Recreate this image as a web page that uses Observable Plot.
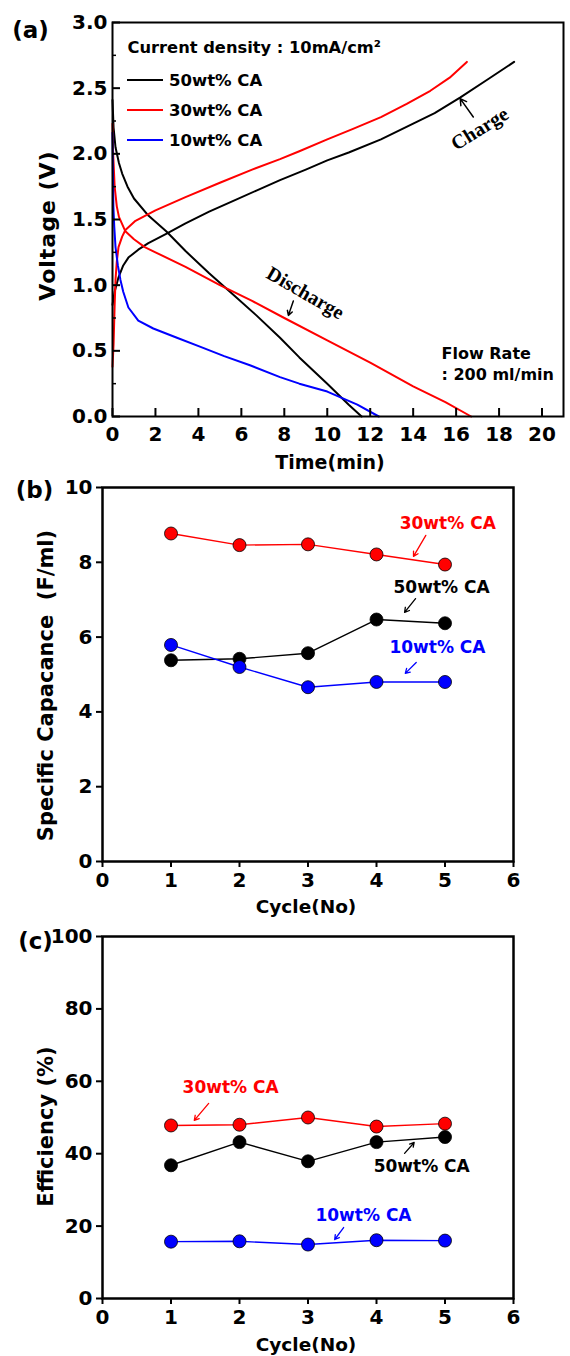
<!DOCTYPE html>
<html><head><meta charset="utf-8">
<script src="https://cdn.jsdelivr.net/npm/d3@7"></script>
<script src="https://cdn.jsdelivr.net/npm/@observablehq/plot@0.6"></script>
<style>
body{margin:0;background:#fff;}
#wrap{position:relative;width:570px;height:1356px;background:#fff;font-family:"DejaVu Sans",sans-serif;font-weight:bold;}
#wrap svg{position:absolute;left:0;display:block;overflow:visible;}
.leg{position:absolute;left:127px;display:flex;align-items:center;height:30px;font-size:16.5px;font-weight:bold;color:#000;}
.leg span.sw{display:inline-block;width:36px;height:0;border-top:2.5px solid #000;margin-right:6px;}
</style></head><body><div id="wrap"></div>
<script>
// ---------- shared ----------
const seriesNames = ["50wt% CA", "30wt% CA", "10wt% CA"];
const seriesColors = ["#000000", "#ff0000", "#0000ff"];

// ---------- panel (a): voltage vs time [time (min), voltage (V)] ----------
const charge50 = [[0,0.85],[0.1,0.95],[0.28,1.06],[0.5,1.15],[0.74,1.21],[1.2,1.27],[1.67,1.32],[2.5,1.39],[3.4,1.47],[4.5,1.56],[5.6,1.64],[6.7,1.72],[7.8,1.80],[9,1.88],[10,1.95],[11,2.01],[12.5,2.11],[14,2.23],[15,2.31],[16.2,2.43],[17.5,2.57],[18.7,2.70]];
const discharge50 = [[0,2.41],[0.05,2.2],[0.14,2.05],[0.3,1.93],[0.45,1.85],[0.7,1.75],[1,1.66],[1.67,1.53],[2.5,1.41],[3.4,1.26],[4.5,1.09],[5.6,0.93],[6.7,0.77],[7.8,0.60],[8.7,0.45],[10,0.25],[11,0.09],[11.6,0]];
const charge30 = [[0,0.38],[0.05,0.55],[0.1,0.85],[0.14,1.04],[0.2,1.18],[0.28,1.29],[0.45,1.37],[0.6,1.42],[1.07,1.49],[2,1.57],[3.4,1.67],[5,1.78],[6.5,1.88],[7.8,1.96],[8.7,2.02],[10,2.11],[11.2,2.19],[12.5,2.28],[13.7,2.38],[14.8,2.48],[15.7,2.58],[16.5,2.70]];
const discharge30 = [[0,2.23],[0.03,2.0],[0.1,1.75],[0.2,1.6],[0.3,1.52],[0.6,1.41],[1,1.35],[1.5,1.29],[2,1.25],[3.4,1.14],[5,1.0],[6.5,0.88],[8,0.75],[10,0.58],[12,0.41],[14,0.23],[15.5,0.11],[16.7,0]];
const discharge10 = [[0,2.16],[0.02,1.85],[0.04,1.6],[0.08,1.45],[0.14,1.29],[0.25,1.15],[0.37,1.04],[0.5,0.95],[0.74,0.83],[1.2,0.73],[1.9,0.67],[3,0.6],[4.1,0.53],[5.2,0.46],[6.4,0.39],[7.8,0.30],[8.7,0.25],[10,0.19],[11.4,0.09],[12.4,0]];
const xTicksA = [0,2,4,6,8,10,12,14,16,18,20];
const yTicksA = [0,0.5,1,1.5,2,2.5,3];
const yMinorA = [0.25,0.75,1.25,1.75,2.25,2.75];

// ---------- panel (b) & (c): per cycle ----------
const cycles = [1,2,3,4,5];
const capacitance50 = [5.38,5.42,5.57,6.47,6.37];
const capacitance30 = [8.77,8.46,8.48,8.21,7.94];
const capacitance10 = [5.79,5.20,4.66,4.80,4.80];
const efficiency50 = [36.8,43.2,37.9,43.2,44.6];
const efficiency30 = [47.8,48.0,50.0,47.5,48.3];
const efficiency10 = [15.7,15.8,14.9,16.1,16.0];
const xTicksBC = [0,1,2,3,4,5,6];
const yTicksB = [0,2,4,6,8,10];
const yTicksC = [0,20,40,60,80,100];

// annotations (data coordinates)
const annA = [
  {text:"Charge", x:17.1, y:2.19, rotate:-32, ax1:16.8, ay1:2.28, ax2:16.19, ay2:2.42},
  {text:"Discharge", x:8.98, y:0.94, rotate:30, ax1:8.42, ay1:0.88, ax2:8.19, ay2:0.77}
];
const annB = [
  {series:"30wt% CA", x:5.04, y:9.04, ax1:4.72, ay1:8.72, ax2:4.54, ay2:8.16},
  {series:"50wt% CA", x:4.95, y:7.33, ax1:4.57, ay1:7.03, ax2:4.41, ay2:6.66},
  {series:"10wt% CA", x:4.89, y:5.72, ax1:4.58, ay1:5.32, ax2:4.42, ay2:5.03}
];
const annC = [
  {series:"30wt% CA", x:1.87, y:58.3, ax1:1.55, ay1:53.9, ax2:1.34, ay2:49.2},
  {series:"50wt% CA", x:4.66, y:36.5, ax1:4.41, ay1:40.1, ax2:4.55, ay2:43.1},
  {series:"10wt% CA", x:3.81, y:22.9, ax1:3.52, ay1:19.6, ax2:3.39, ay2:16.3}
];

// ---------- build tables ----------
const curvesA = [
  {series:"50wt% CA", phase:"charge", pts:charge50},
  {series:"50wt% CA", phase:"discharge", pts:discharge50},
  {series:"30wt% CA", phase:"charge", pts:charge30},
  {series:"30wt% CA", phase:"discharge", pts:discharge30},
  {series:"10wt% CA", phase:"discharge", pts:discharge10}
];
const rowsA = curvesA.flatMap(c => c.pts.map(([t, v]) => ({t, v, series:c.series, key:c.series + c.phase})));
function perCycle(a50, a30, a10) {
  const m = {"50wt% CA":a50, "30wt% CA":a30, "10wt% CA":a10};
  return seriesNames.flatMap(s => cycles.map((c, i) => ({series:s, cycle:c, value:m[s][i]})));
}
const rowsB = perCycle(capacitance50, capacitance30, capacitance10);
const rowsC = perCycle(efficiency50, efficiency30, efficiency10);
const colorOf = s => seriesColors[seriesNames.indexOf(s)];

const FONT = "DejaVu Sans";
const baseStyle = "font-family:'DejaVu Sans',sans-serif;font-weight:bold;font-size:20px;color:#000;background:transparent;overflow:visible;";

function thickenAxes(svg) {
  d3.select(svg).selectAll('g[aria-label^="x-axis"] line, g[aria-label^="x-axis"] path, g[aria-label^="y-axis"] line, g[aria-label^="y-axis"] path')
    .attr("stroke-width", 2);
}
function spaceText(svg, text, px) {
  d3.select(svg).selectAll("text").filter(function() { return this.textContent === text; })
    .style("letter-spacing", px + "px");
}
function title(text, anchor, dx, dy, rotate, fontSize) {
  return Plot.text([text], {text:d => d, frameAnchor:anchor, textAnchor:"middle", lineAnchor:"middle", dx, dy, rotate, fontSize, fontWeight:"bold", fontFamily:FONT, fill:"black"});
}
function panelLabel(text, dx, dy) {
  return Plot.text([text], {text:d => d, frameAnchor:"top-left", textAnchor:"middle", lineAnchor:"middle", dx, dy, fontSize:23, fontWeight:"bold", fontFamily:FONT, fill:"black"});
}

const wrap = document.getElementById("wrap");

// ---------- panel (a) ----------
const hA = 475, mtA = 22, mbA = 59, mlA = 112, mrA = 7;
const frameWA = 570 - mlA - mrA, frameHA = hA - mtA - mbA;
const svgA = Plot.plot({
  width:570, height:hA, marginTop:mtA, marginBottom:mbA, marginLeft:mlA, marginRight:mrA,
  style:baseStyle,
  x:{domain:[0,21], ticks:xTicksA, tickSize:0, tickPadding:10, tickFormat:d => d, label:null},
  y:{domain:[0,3], ticks:yTicksA, tickSize:0, tickPadding:5, tickFormat:d3.format(".1f"), label:null},
  color:{domain:seriesNames, range:seriesColors},
  marks:[
    Plot.line(rowsA, {x:"t", y:"v", z:"key", stroke:"series", strokeWidth:2}),
    Plot.ruleX(xTicksA, {x:d => d, insetTop:frameHA - 8, stroke:"black", strokeWidth:2}),
    Plot.ruleY(yTicksA, {y:d => d, insetRight:frameWA - 8, stroke:"black", strokeWidth:2}),
    Plot.ruleY(yMinorA, {y:d => d, insetRight:frameWA - 4, stroke:"black", strokeWidth:1.5}),
    Plot.frame({stroke:"black", strokeWidth:2}),
    Plot.text(["Current density : 10mA/cm²"], {text:d => d, frameAnchor:"top-left", textAnchor:"start", lineAnchor:"middle", dx:15, dy:25, fontSize:16.3, fontWeight:"bold", fontFamily:FONT, fill:"black"}),
    Plot.text(["Flow Rate\n: 200 ml/min"], {text:d => d, frameAnchor:"bottom-right", textAnchor:"start", lineAnchor:"middle", dx:-122, dy:-54, lineHeight:1.3, fontSize:16, fontWeight:"bold", fontFamily:FONT, fill:"black"}),
    Plot.text(annA, {x:"x", y:"y", text:"text", rotate:d => d.rotate, fontSize:20, fontWeight:"bold", fontFamily:"Liberation Serif", fill:"black"}),
    Plot.arrow(annA, {x1:"ax1", y1:"ay1", x2:"ax2", y2:"ay2", stroke:"black", strokeWidth:1.5, headLength:7}),
    title("Voltage (V)", "left", -65, 6, -90, 22),
    title("Time(min)", "bottom", -8, 46, 0, 19),
    panelLabel("(a)", -82, 8)
  ]
});
svgA.style.top = "0px";
spaceText(svgA, "Voltage (V)", 1);
wrap.appendChild(svgA);

// legend (a)
seriesNames.forEach((s, i) => {
  const d = document.createElement("div");
  d.className = "leg";
  d.style.top = (65 + i * 30) + "px";
  d.innerHTML = `<span class="sw" style="border-top-color:${seriesColors[i]}"></span><span>${s}</span>`;
  wrap.appendChild(d);
});

// ---------- panels (b) and (c) ----------
function cyclePanel({rows, ann, yDomain, yTicks, height, top, marginTop, marginBottom, yTitle, yTitleDy, xTitleDy, label, labelDx, labelDy}) {
  const svg = Plot.plot({
    width:570, height, marginTop, marginBottom, marginLeft:102, marginRight:57,
    style:baseStyle,
    x:{domain:[0,6], ticks:xTicksBC, tickSize:6, tickPadding:5, tickFormat:d => d, label:null},
    y:{domain:yDomain, ticks:yTicks, tickSize:6, tickPadding:4, tickFormat:d => d, label:null},
    color:{domain:seriesNames, range:seriesColors},
    marks:[
      Plot.frame({stroke:"black", strokeWidth:2.5}),
      Plot.line(rows, {x:"cycle", y:"value", z:"series", stroke:"series", strokeWidth:1.4}),
      Plot.dot(rows, {x:"cycle", y:"value", fill:"series", stroke:"black", strokeWidth:0.8, r:6.5}),
      Plot.text(ann, {x:"x", y:"y", text:"series", fill:d => colorOf(d.series), fontSize:17, fontWeight:"bold", fontFamily:FONT}),
      Plot.arrow(ann, {x1:"ax1", y1:"ay1", x2:"ax2", y2:"ay2", stroke:d => colorOf(d.series), strokeWidth:1.3, headLength:6}),
      title(yTitle, "left", -56, yTitleDy, -90, 21),
      title("Cycle(No)", "bottom", -2, xTitleDy, 0, 18.5),
      panelLabel(label, labelDx, labelDy)
    ]
  });
  svg.style.top = top + "px";
  thickenAxes(svg);
  wrap.appendChild(svg);
  return svg;
}

cyclePanel({rows:rowsB, ann:annB, yDomain:[0,10], yTicks:yTicksB, height:445, top:475, marginTop:12, marginBottom:59,
  yTitle:"Specific Capacance\u00a0 (F/ml)", yTitleDy:11, xTitleDy:46, label:"(b)", labelDx:-68, labelDy:3});
cyclePanel({rows:rowsC, ann:annC, yDomain:[0,100], yTicks:yTicksC, height:436, top:920, marginTop:16, marginBottom:58,
  yTitle:"Efficiency (%)", yTitleDy:9, xTitleDy:47, label:"(c)", labelDx:-67, labelDy:5});
</script></body></html>
